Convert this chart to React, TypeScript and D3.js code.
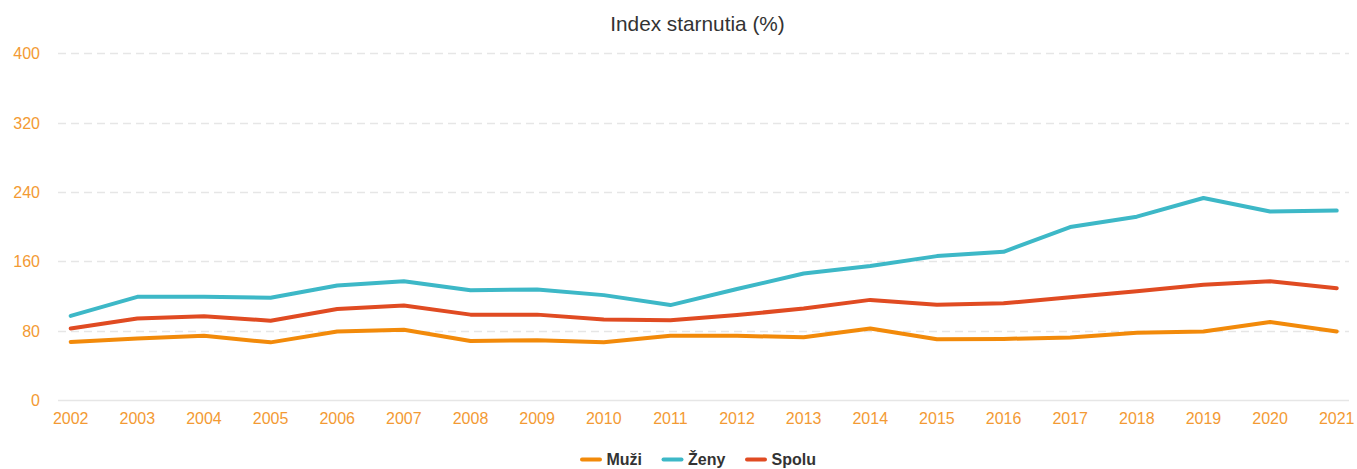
import { useEffect, useRef } from "react"
import * as d3 from "d3"

const years = ["2002", "2003", "2004", "2005", "2006", "2007", "2008", "2009", "2010", "2011",
  "2012", "2013", "2014", "2015", "2016", "2017", "2018", "2019", "2020", "2021"]
const muzi = [67, 71, 74, 66.5, 79, 81, 68, 69, 66.5, 74, 74, 72.5, 82.5, 70, 70.5, 72, 77.5, 79, 90, 79]
const zeny = [97, 119, 119, 118, 132, 137, 126.5, 127.5, 121, 109.5, 128, 146, 154.5, 166, 171, 199.5, 211.5, 233, 217.5, 218.5]
const spolu = [82.5, 94, 96.5, 91.5, 105, 109, 98.5, 98.5, 93, 92, 98, 105.5, 115.5, 110, 111.5, 118.5, 125.5, 133, 137, 129]
const yTicks = [0, 80, 160, 240, 320, 400]

const series = [
  { name: "Muži", values: muzi, color: "#f28a0a" },
  { name: "Ženy", values: zeny, color: "#3db8c7" },
  { name: "Spolu", values: spolu, color: "#e04b22" },
]

const W = 1357
const H = 469
const FONT = "'Liberation Sans', Arial, sans-serif"

export default function App() {
  const svgRef = useRef<SVGSVGElement>(null)

  useEffect(() => {
    document.body.style.margin = "0"
    const svg = d3.select(svgRef.current)
    svg.selectAll("*").remove()

    const plotLeft = 58
    const plotRight = 1349
    const x = d3.scaleLinear().domain([0, years.length - 1]).range([70.7, 1336.7])
    const y = d3.scaleLinear().domain([0, 400]).range([400, 53.3])

    // title
    svg.append("text")
      .attr("x", 697.5).attr("y", 31)
      .attr("text-anchor", "middle")
      .attr("font-family", FONT).attr("font-size", 20.8)
      .attr("fill", "#333")
      .text("Index starnutia (%)")

    // grid
    const grid = svg.append("g")
    grid.selectAll("line")
      .data(yTicks)
      .join("line")
      .attr("x1", plotLeft).attr("x2", plotRight)
      .attr("y1", d => Math.round(y(d)) + 0.5).attr("y2", d => Math.round(y(d)) + 0.5)
      .attr("stroke", "#e6e6e6")
      .attr("stroke-width", 1.5)
      .attr("stroke-dasharray", d => d === 0 ? null : "8,5")

    // y labels
    svg.append("g").selectAll("text")
      .data(yTicks)
      .join("text")
      .attr("x", 40).attr("y", d => y(d) + 6)
      .attr("text-anchor", "end")
      .attr("font-family", FONT).attr("font-size", 16)
      .attr("fill", "#f39a33")
      .text(d => d)

    // x labels
    svg.append("g").selectAll("text")
      .data(years)
      .join("text")
      .attr("x", (_, i) => x(i)).attr("y", 424)
      .attr("text-anchor", "middle")
      .attr("font-family", FONT).attr("font-size", 16)
      .attr("fill", "#f39a33")
      .text(d => d)

    // lines
    const line = d3.line<number>()
      .x((_, i) => x(i))
      .y(d => y(d))

    svg.append("g").selectAll("path")
      .data(series)
      .join("path")
      .attr("d", d => line(d.values))
      .attr("fill", "none")
      .attr("stroke", d => d.color)
      .attr("stroke-width", 4)
      .attr("stroke-linejoin", "round")
      .attr("stroke-linecap", "round")

    // legend
    const legendX = [582, 663.5, 747]
    const legend = svg.append("g")
    const items = legend.selectAll("g")
      .data(series)
      .join("g")
      .attr("transform", (_, i) => `translate(${legendX[i]},459.5)`)
    items.append("line")
      .attr("x1", 0).attr("x2", 18)
      .attr("y1", 0).attr("y2", 0)
      .attr("stroke", d => d.color)
      .attr("stroke-width", 4)
      .attr("stroke-linecap", "round")
    items.append("text")
      .attr("x", 24.5).attr("y", 5.5)
      .attr("font-family", FONT).attr("font-size", 16)
      .attr("font-weight", "bold")
      .attr("fill", "#333")
      .text(d => d.name)
  }, [])

  return <svg ref={svgRef} width={W} height={H} style={{ display: "block", background: "#fff" }} />
}
